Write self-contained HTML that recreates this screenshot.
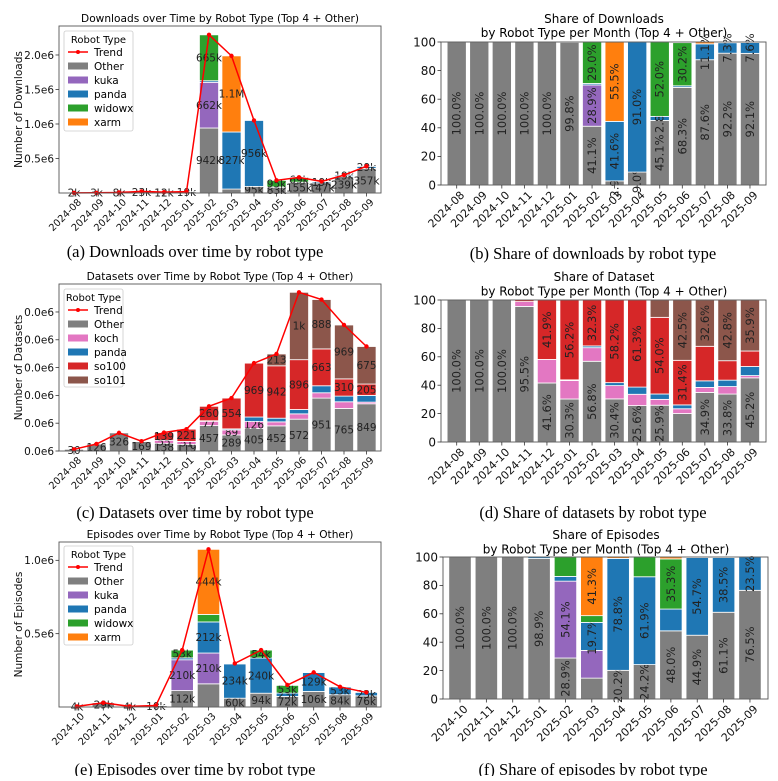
<!DOCTYPE html>
<html><head><meta charset="utf-8"><style>
html,body{margin:0;padding:0;background:#fff}
svg text{font-family:"DejaVu Sans","Liberation Sans",sans-serif}
.cap{font-family:"Liberation Serif",serif;font-size:16.5px}
</style></head><body>
<svg id="fig" width="778" height="776" viewBox="0 0 778 776" xmlns="http://www.w3.org/2000/svg">
<rect width="778" height="776" fill="#fff"/>
<text class="cap" x="195" y="257" text-anchor="middle">(a) Downloads over time by robot type</text>
<text class="cap" x="593" y="259" text-anchor="middle">(b) Share of downloads by robot type</text>
<text class="cap" x="195" y="518" text-anchor="middle">(c) Datasets over time by robot type</text>
<text class="cap" x="593" y="518" text-anchor="middle">(d) Share of datasets by robot type</text>
<text class="cap" x="195" y="775" text-anchor="middle">(e) Episodes over time by robot type</text>
<text class="cap" x="593" y="775" text-anchor="middle">(f) Share of episodes by robot type</text>
</svg>
<script>
// ---- Downloads data ----
const dlMonths = ["2024-08","2024-09","2024-10","2024-11","2024-12","2025-01","2025-02","2025-03","2025-04","2025-05","2025-06","2025-07","2025-08","2025-09"];
const dlOther  = [2000,3000,8000,23000,12000,19000,942000,57000,95000,82800,155000,147000,239000,357000];
const dlKuka   = [0,0,0,0,0,0,662000,0,0,0,0,0,0,0];
const dlPanda  = [0,0,0,0,0,40,23000,827000,956000,5200,2500,18600,19000,29300];
const dlWidowx = [0,0,0,0,0,0,665000,0,0,95400,68600,0,1300,1500];
const dlXarm   = [0,0,0,0,0,0,0,1103000,0,0,1000,2200,0,0];
const dlTickVals = [500000,1000000,1500000,2000000];
const dlTickLabels = ["0.5e6","1.0e6","1.5e6","2.0e6"];
// ---- Datasets data ----
const dsMonths = ["2024-08","2024-09","2024-10","2024-11","2024-12","2025-01","2025-02","2025-03","2025-04","2025-05","2025-06","2025-07","2025-08","2025-09"];
const dsOther = [30,126,326,169,138,119,457,289,405,452,572,951,765,849];
const dsKoch  = [0,0,0,6,55,51,77,89,126,72,96,96,120,30];
const dsPanda = [0,0,0,0,0,2,10,20,80,66,78,126,102,120];
const dsSo100 = [0,0,0,2,139,221,260,554,969,942,896,663,310,205];
const dsSo101 = [0,0,0,0,0,0,0,0,0,213,1212,888,969,675];
const dsTickVals = [0,500,1000,1500,2000,2500];
const dsTickLabels = ["0.0e6","0.0e6","0.0e6","0.0e6","0.0e6","0.0e6"];
// ---- Episodes data ----
const epMonths = ["2024-10","2024-11","2024-12","2025-01","2025-02","2025-03","2025-04","2025-05","2025-06","2025-07","2025-08","2025-09"];
const epOther  = [4000,29000,4000,10000,112000,158000,60000,94000,72000,106000,84000,76000];
const epKuka   = [0,0,0,0,210000,210000,0,0,0,0,0,0];
const epPanda  = [0,0,0,110,13000,212000,234000,240000,23000,129000,53000,23300];
const epWidowx = [0,0,0,0,53000,51000,0,54000,53000,1000,500,0];
const epXarm   = [0,0,0,0,0,444000,3000,0,2000,0,0,0];
const epTickVals = [500000,1000000];
const epTickLabels = ["0.5e6","1.0e6"];
const shareTickVals = [0,20,40,60,80,100];

const C = {Other:"#7f7f7f",kuka:"#9467bd",panda:"#1f77b4",widowx:"#2ca02c",xarm:"#ff7f0e",koch:"#e377c2",so100:"#d62728",so101:"#8c564b"};
const NS = "http://www.w3.org/2000/svg";
const svg = document.getElementById("fig");
function mk(tag, attrs, parent, txt){
  const e = document.createElementNS(NS, tag);
  for (const k in attrs) e.setAttribute(k, attrs[k]);
  if (txt !== undefined) e.textContent = txt;
  (parent||svg).appendChild(e);
  return e;
}
function fmt(v){
  if (v >= 1e6) return (v/1e6).toFixed(1)+"M";
  if (v >= 1000) return Math.round(v/1000)+"k";
  return String(Math.round(v));
}

function panel(o){
  const g = mk("g", {});
  
  
  const n = o.cats.length;
  const skip = o.skip || [];
  const totals = o.cats.map((c,i)=>o.series.reduce((s,a)=>s+a[i],0));
  const ymax = o.share ? 100 : o.ymax;
  const ys = v => o.y1 - v/ymax*(o.y1-o.y0);
  const xs = i => o.first + i*o.step;
  const bw = o.step*0.85;
  o.title.forEach((t,k)=>{
    const tt = mk("text",{x:o.tx,y:o.ty+k*o.tl,"text-anchor":"middle","font-size":o.tfs},g,t);
    
    
  });
  for (let i=0;i<n;i++){
    let base = 0;
    o.series.forEach((arr,s)=>{
      const raw = arr[i];
      const v = o.share ? (totals[i] ? raw/totals[i]*100 : 0) : raw;
      if (v <= 0) return;
      const yTop = ys(base+v), yBot = ys(base);
      const r = mk("rect",{x:xs(i)-bw/2,y:yTop,width:bw,height:Math.max(0,yBot-yTop),fill:C[o.names[s]],stroke:"#fff","stroke-width":0.8},g);
      
      
      const share = totals[i] ? raw/totals[i]*100 : 0;
      const noLab = skip.indexOf(o.names[s]+"@"+o.cats[i]) >= 0 || (o.noSeries||[]).indexOf(o.names[s]) >= 0;
      if (share >= o.thr && !noLab){
        const cy = (yTop+yBot)/2;
        if (o.share){
          const t = mk("text",{x:xs(i),y:cy,"font-size":11.5,"text-anchor":"middle","dominant-baseline":"central",transform:`rotate(-90 ${xs(i)} ${cy})`,fill:"#222"},g,share.toFixed(1)+"%");
          
          
        } else {
          const t = mk("text",{x:xs(i),y:cy+3.7,"font-size":10.5,"text-anchor":"middle",fill:"#222"},g,fmt(raw));
          
          
        }
      }
      base += v;
    });
  }
  if (!o.share){
    const pts = totals.map((t,i)=>xs(i)+","+ys(t)).join(" ");
    const pl = mk("polyline",{points:pts,fill:"none",stroke:"#ff0000","stroke-width":1.5},g);
    
    
    totals.forEach((t,i)=>{
      const c = mk("circle",{cx:xs(i),cy:ys(t),r:2.2,fill:"#ff0000"},g);
      
      
    });
  }
  const fr = mk("rect",{x:o.x0,y:o.y0,width:o.x1-o.x0,height:o.y1-o.y0,fill:"none",stroke:"#555","stroke-width":0.9},g);
  
  
  o.tickVals.forEach((v,k)=>{
    const y = ys(v);
    mk("line",{x1:o.x0-3.5,x2:o.x0,y1:y,y2:y,stroke:"#333","stroke-width":0.8},g);
    const t = mk("text",{x:o.x0-5,y:y+o.yfs*0.36,"font-size":o.yfs,"text-anchor":"end",fill:"#111"},g,o.tickLabels[k]);
    
    
  });
  o.cats.forEach((c,i)=>{
    const x = xs(i);
    mk("line",{x1:x,x2:x,y1:o.y1,y2:o.y1+3.5,stroke:"#333","stroke-width":0.8},g);
    const ax = x+3, ay = o.y1+o.xfs+2;
    const t = mk("text",{x:ax,y:ay,"font-size":o.xfs,"text-anchor":"end",transform:`rotate(-45 ${ax} ${ay-o.xfs*0.7})`,fill:"#111"},g,c);
    
    
  });
  if (o.ylabel){
    const yl = mk("text",{x:22,y:(o.y0+o.y1)/2,"font-size":10.5,"text-anchor":"middle",transform:`rotate(-90 22 ${(o.y0+o.y1)/2})`,fill:"#111"},g,o.ylabel);
    
    
  }
  if (o.legend){
    const L = o.legend;
    const lg = mk("g",{},g);
    
    
    mk("rect",{x:L.x,y:L.y,width:L.w,height:L.h,rx:2,fill:"#fff","fill-opacity":0.85,stroke:"#ccc","stroke-width":0.8},lg);
    const lt = mk("text",{x:L.x+L.w/2,y:L.y+12,"font-size":10,"text-anchor":"middle"},lg,"Robot Type");
    
    
    const items = ["Trend"].concat(o.names);
    items.forEach((nm,k)=>{
      const cy = L.y+21+k*14;
      if (nm==="Trend"){
        mk("line",{x1:L.x+4,x2:L.x+24,y1:cy,y2:cy,stroke:"#ff0000","stroke-width":1.5},lg);
        mk("circle",{cx:L.x+14,cy:cy,r:2,fill:"#ff0000"},lg);
      } else {
        mk("rect",{x:L.x+4,y:cy-3.5,width:20,height:7,fill:C[nm]},lg);
      }
      const t = mk("text",{x:L.x+30,y:cy+4,"font-size":10.5},lg,nm);
      
      
    });
  }
}

const dlNames=["Other","kuka","panda","widowx","xarm"];
const dsNames=["Other","koch","panda","so100","so101"];
panel({id:"downloads-chart",cats:dlMonths,series:[dlOther,dlKuka,dlPanda,dlWidowx,dlXarm],names:dlNames,
  x0:59,x1:381,y0:26,y1:193,ymax:2.42e6,first:74,step:22.5,thr:5.5,tickVals:dlTickVals,tickLabels:dlTickLabels,
  title:["Downloads over Time by Robot Type (Top 4 + Other)"],tx:220,ty:22,tl:0,tfs:10.6,yfs:10.5,xfs:9.8,
  ylabel:"Number of Downloads",legend:{x:64,y:31,w:69,h:100}});
panel({id:"downloads-share-chart",share:true,cats:dlMonths,series:[dlOther,dlKuka,dlPanda,dlWidowx,dlXarm],names:dlNames,
  x0:441,x1:766,y0:42,y1:185,first:456.7,step:22.56,thr:2.5,tickVals:shareTickVals,tickLabels:shareTickVals.map(String),
  title:["Share of Downloads","by Robot Type per Month (Top 4 + Other)"],tx:604,ty:23,tl:14,tfs:12,yfs:12,xfs:11});
panel({id:"datasets-chart",cats:dsMonths,series:[dsOther,dsKoch,dsPanda,dsSo100,dsSo101],names:dsNames,noSeries:["panda"],
  x0:59,x1:381,y0:284,y1:451,ymax:3003,first:74,step:22.5,thr:5.5,tickVals:dsTickVals,tickLabels:dsTickLabels,
  title:["Datasets over Time by Robot Type (Top 4 + Other)"],tx:220,ty:280,tl:0,tfs:10.6,yfs:10.5,xfs:9.8,
  ylabel:"Number of Datasets",legend:{x:64,y:289,w:59,h:98}});
panel({id:"datasets-share-chart",share:true,cats:dsMonths,series:[dsOther,dsKoch,dsPanda,dsSo100,dsSo101],names:dsNames,
  x0:441,x1:766,y0:300,y1:442,first:456.7,step:22.56,thr:25,tickVals:shareTickVals,tickLabels:shareTickVals.map(String),
  title:["Share of Dataset","by Robot Type per Month (Top 4 + Other)"],tx:604,ty:281,tl:14.5,tfs:12,yfs:12,xfs:11});
panel({id:"episodes-chart",cats:epMonths,series:[epOther,epKuka,epPanda,epWidowx,epXarm],names:dlNames,skip:["Other@2025-03"],
  x0:59,x1:381,y0:542,y1:707,ymax:1.125e6,first:77,step:26.3,thr:5,tickVals:epTickVals,tickLabels:epTickLabels,
  title:["Episodes over Time by Robot Type (Top 4 + Other)"],tx:220,ty:538,tl:0,tfs:10.6,yfs:10.5,xfs:9.8,
  ylabel:"Number of Episodes",legend:{x:64,y:546,w:69,h:99}});
panel({id:"episodes-share-chart",share:true,cats:epMonths,series:[epOther,epKuka,epPanda,epWidowx,epXarm],names:dlNames,
  x0:443,x1:768,y0:557,y1:699,first:460,step:26.36,thr:19.6,tickVals:shareTickVals,tickLabels:shareTickVals.map(String),
  title:["Share of Episodes","by Robot Type per Month (Top 4 + Other)"],tx:606,ty:539,tl:14.5,tfs:12,yfs:12,xfs:11});
</script>
</body></html>
